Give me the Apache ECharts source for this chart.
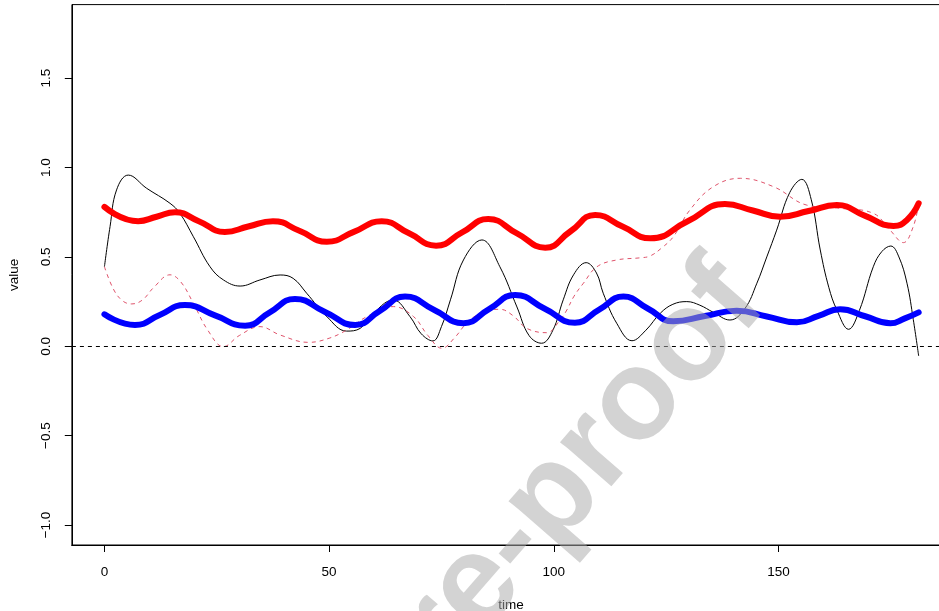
<!DOCTYPE html>
<html>
<head>
<meta charset="utf-8">
<script src="https://cdn.jsdelivr.net/npm/echarts@6/dist/echarts.min.js"></script>
<style>
html,body{margin:0;padding:0;background:#fff;}
#c{width:939px;height:611px;}
</style>
</head>
<body>
<div id="c"></div>
<script>
// ---- data ----
var xTicks = [0, 50, 100, 150];
var yTicks = [-1, -0.5, 0, 0.5, 1, 1.5];

var blackT = [0,1.25,2.7,5.3,9.4,14.6,16.8,19.8,23.5,26.5,30.2,34.6,39.1,42,45,49.5,53.9,56.9,59.1,64.3,68,70.5,73.1,75,77,79.9,84,88,91.8,94.5,97.3,99.8,102.1,104.4,107.2,109.5,111,114,117.4,120.5,123.7,126.5,129.6,132.5,135.5,139.2,142.5,145.2,147.4,149.6,152.5,155.2,157.3,159.3,161.2,163,165.6,168,171.1,173,175,176.8,178.6,180,181.2];
var blackV = [0.445,0.67,0.875,0.958,0.884,0.80,0.744,0.613,0.445,0.371,0.337,0.371,0.399,0.38,0.297,0.166,0.085,0.10,0.166,0.259,0.166,0.07,0.03,0.11,0.26,0.483,0.595,0.445,0.22,0.06,0.017,0.09,0.26,0.40,0.468,0.41,0.297,0.129,0.031,0.09,0.185,0.235,0.25,0.23,0.19,0.147,0.21,0.353,0.50,0.65,0.86,0.934,0.82,0.539,0.33,0.203,0.095,0.2,0.445,0.53,0.561,0.5,0.353,0.15,-0.054];

var pinkT = [0,2,4,6.1,8.5,11,14.6,17,19.8,23,26.5,30,34.6,39.1,45.4,50,53.9,58.4,64.3,68.8,72,75.1,78,80.6,84,88,91,94,98.4,101.4,102.9,104.5,106.6,109.6,114,119.2,121.4,124,126.6,130.3,135.5,141.5,148.9,156.3,163.7,171.1,174.8,177.8,180,181.2];
var pinkV = [0.445,0.32,0.255,0.237,0.26,0.33,0.40,0.36,0.24,0.09,-0.002,0.06,0.11,0.063,0.022,0.045,0.091,0.166,0.222,0.166,0.06,-0.011,0.05,0.129,0.19,0.207,0.17,0.10,0.076,0.147,0.203,0.28,0.353,0.445,0.483,0.495,0.505,0.55,0.613,0.763,0.893,0.94,0.893,0.79,0.772,0.744,0.651,0.58,0.67,0.80];

var redT = [0,7.5,11.6,15.7,21,26.8,32,37.5,43.5,49.5,55.5,61.7,67.8,73.8,79.6,85.4,91.8,98.1,103.7,109.2,115.3,121.5,129.8,138.1,144.3,150.4,156.7,163,169.3,175.6,178.6,181.2];
var redV = [0.78,0.70,0.725,0.75,0.70,0.64,0.67,0.70,0.645,0.585,0.64,0.70,0.632,0.563,0.637,0.712,0.632,0.552,0.643,0.735,0.67,0.604,0.70,0.796,0.76,0.725,0.757,0.79,0.73,0.673,0.707,0.80];

var blueT = [0,6.8,12.3,17.9,24.6,31.3,36.8,42.4,49.1,55.8,61.3,66.9,73.4,79.9,85.6,91.4,98,104.7,110.1,115.5,121,126.6,133.6,140.7,147.4,154.1,158.9,163.7,169.3,174.9,178,181.2];
var blueV = [0.179,0.119,0.175,0.231,0.173,0.115,0.19,0.265,0.192,0.119,0.198,0.278,0.203,0.129,0.208,0.287,0.21,0.132,0.205,0.278,0.21,0.14,0.169,0.199,0.167,0.134,0.17,0.207,0.168,0.129,0.155,0.19];

function pairs(t, v) { return t.map(function (x, i) { return [x, v[i]]; }); }

var FONT = 'Liberation Sans, Arial, Helvetica, sans-serif';
var X_MIN = -7.24, X_MAX = 188.24, Y_MIN = -1.112, Y_MAX = 1.912;
var chart = echarts.init(document.getElementById('c'), null, {renderer: 'canvas'});

var tickStyle = {color: '#000', width: 1};

var option = {
  animation: false,
  backgroundColor: '#ffffff',
  grid: {
    left: 71.9, top: 4.6, width: 878.4, height: 540.4,
    show: true, borderColor: '#000', borderWidth: 1,
    outerBoundsMode: 'none'
  },
  xAxis: [{
    type: 'value', min: X_MIN, max: X_MAX, position: 'bottom',
    name: 'time', nameLocation: 'middle', nameGap: 53,
    nameTextStyle: {color: '#000', fontSize: 13.5, fontFamily: FONT},
    axisLine: {show: true, onZero: false, lineStyle: {color: '#000', width: 1}},
    axisTick: {show: true, length: 7, customValues: xTicks, lineStyle: tickStyle},
    axisLabel: {show: true, customValues: xTicks, margin: 20, color: '#000', fontSize: 13.5, fontFamily: FONT},
    splitLine: {show: false}
  }, {
    // tick-only companion axis
    type: 'value', min: X_MIN, max: X_MAX, position: 'bottom', offset: 0,
    axisLine: {show: true, onZero: false, lineStyle: {color: '#000', width: 1}},
    axisTick: {show: true, length: 7, customValues: xTicks, lineStyle: tickStyle},
    axisLabel: {show: false},
    splitLine: {show: false}
  }],
  yAxis: [{
    type: 'value', min: Y_MIN, max: Y_MAX, position: 'left',
    name: 'value', nameLocation: 'middle', nameGap: 51,
    nameTextStyle: {color: '#000', fontSize: 13.5, fontFamily: FONT},
    axisLine: {show: true, onZero: false, lineStyle: {color: '#000', width: 1}},
    axisTick: {show: true, length: 7, customValues: yTicks, lineStyle: tickStyle},
    axisLabel: {
      show: true, customValues: yTicks, rotate: 90, margin: 19, color: '#000', fontSize: 13.5, fontFamily: FONT,
      formatter: function (v) { return (v < 0 ? '\u2212' : '') + Math.abs(v).toFixed(1); }
    },
    splitLine: {show: false}
  }, {
    // tick-only companion axis
    type: 'value', min: Y_MIN, max: Y_MAX, position: 'left', offset: 0,
    axisLine: {show: true, onZero: false, lineStyle: {color: '#000', width: 1}},
    axisTick: {show: true, length: 7, customValues: yTicks, lineStyle: tickStyle},
    axisLabel: {show: false},
    splitLine: {show: false}
  }],
  series: [
    {
      type: 'line', name: 'black', data: pairs(blackT, blackV), smooth: 0.4, showSymbol: false, symbol: 'none',
      lineStyle: {color: '#000', width: 1}, z: 2,
      markLine: {
        silent: true, symbol: ['none', 'none'], label: {show: false},
        lineStyle: {color: '#000', width: 1, type: [4, 4]},
        data: [{yAxis: 0}]
      }
    },
    {
      type: 'line', name: 'pink', data: pairs(pinkT, pinkV), smooth: 0.4, showSymbol: false, symbol: 'none',
      lineStyle: {color: '#DF536B', width: 1, type: [4, 4]}, z: 3
    },
    {
      type: 'line', name: 'red', data: pairs(redT, redV), smooth: 0.5, showSymbol: false, symbol: 'none',
      lineStyle: {color: '#FF0000', width: 6, cap: 'round', join: 'round'}, z: 4
    },
    {
      type: 'line', name: 'blue', data: pairs(blueT, blueV), smooth: 0.5, showSymbol: false, symbol: 'none',
      lineStyle: {color: '#0000FF', width: 6, cap: 'round', join: 'round'}, z: 5
    }
  ],
  graphic: [{
    type: 'text', z: 100, silent: true,
    x: 742, y: 282, rotation: 49 * Math.PI / 180,
    style: {
      text: 'Journal Pre-proof',
      font: 'bold 128px "Liberation Sans", Arial, sans-serif',
      fill: 'rgba(170,170,170,0.52)',
      textAlign: 'right', textVerticalAlign: 'middle',
      align: 'right', verticalAlign: 'middle'
    }
  }]
};
chart.setOption(option);
</script>
</body>
</html>
